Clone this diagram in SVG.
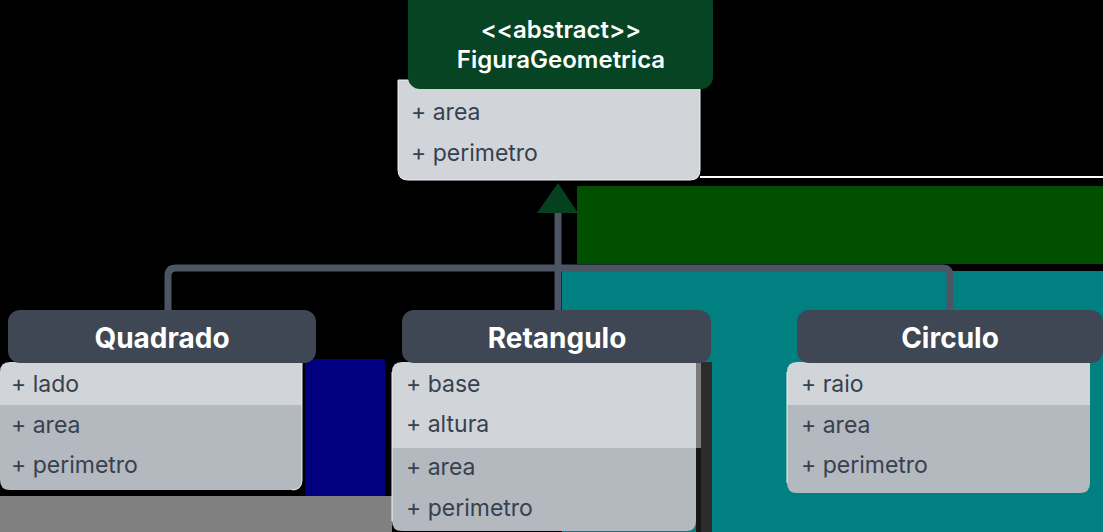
<svg xmlns="http://www.w3.org/2000/svg" width="1103" height="532" viewBox="0 0 1103 532">
  <style>
    .hdr { fill: #3e4753; }
    .attr { fill: #d1d5da; }
    .meth { fill: #b4b8bf; }
    .title { font-family: Inter, "Noto Sans", "Liberation Sans", sans-serif; font-size: 28px; font-weight: 700; fill: #ffffff; text-anchor: middle; }
    .stereo { font-family: Inter, "Noto Sans", "Liberation Sans", sans-serif; font-size: 24px; font-weight: 600; fill: #ffffff; text-anchor: middle; }
    .member { font-family: Inter, "Noto Sans", "Liberation Sans", sans-serif; font-size: 23px; font-weight: 400; fill: #364150; }
    .link { fill: none; stroke: #4b5563; stroke-width: 7; }
  </style>

  <!-- backdrop panels -->
  <rect x="0" y="0" width="1103" height="532" fill="#000000"/>
  <rect x="700" y="176" width="403" height="2" fill="#ffffff"/>
  <rect x="577" y="186" width="526" height="78" fill="#005000"/>
  <rect x="562" y="271" width="541" height="261" fill="#008080"/>
  <rect x="305" y="359" width="80" height="137" fill="#000080"/>
  <rect x="0" y="496" width="392" height="36" fill="#808080"/>

  <!-- inheritance connectors -->
  <g id="connectors">
    <path class="link" d="M 168 310 V 276 Q 168 268 176 268 H 942 Q 950 268 950 276 V 310"/>
    <path class="link" d="M 558 310 V 210"/>
    <polygon points="537,213 578,213 558,183" fill="#05401f"/>
  </g>

  <!-- abstract base class -->
  <g id="FiguraGeometrica">
    <path d="M 398 80 H 700 V 170 Q 700 180 690 180 H 408 Q 398 180 398 170 Z" class="attr" stroke="#eef0f2" stroke-width="1"/>
    <rect x="408" y="-10" width="305" height="99" rx="12" fill="#064424"/>
    <text class="stereo" x="561" y="38">&lt;&lt;abstract&gt;&gt;</text>
    <text class="stereo" x="561" y="68" font-weight="700">FiguraGeometrica</text>
    <text class="member" x="411" y="120">+ area</text>
    <text class="member" x="411" y="161">+ perimetro</text>
  </g>

  <!-- Quadrado -->
  <g id="Quadrado">
    <path d="M 0 372 Q 0 362 10 362 H 302 V 405 H 0 Z" class="attr"/>
    <path d="M 0 405 H 302 V 480 Q 302 490 292 490 H 10 Q 0 490 0 480 Z" class="meth"/>
    <path d="M 302 362 V 480 Q 302 490 292 490" fill="none" stroke="#e8eaed" stroke-width="1"/>
    <rect x="8" y="310" width="308" height="53" rx="12" class="hdr"/>
    <text class="title" x="162" y="348">Quadrado</text>
    <text class="member" x="11" y="392">+ lado</text>
    <text class="member" x="11" y="433">+ area</text>
    <text class="member" x="11" y="473">+ perimetro</text>
  </g>

  <!-- Retangulo -->
  <g id="Retangulo">
    <rect x="696" y="362" width="5" height="86" fill="#7a7a7a"/>
    <rect x="696" y="448" width="5" height="84" fill="#161616"/>
    <rect x="701" y="362" width="11" height="170" fill="#2c2c2c"/>
    <path d="M 392 372 Q 392 362 402 362 H 696 V 448 H 392 Z" class="attr"/>
    <path d="M 392 448 H 696 V 521 Q 696 531 686 531 H 402 Q 392 531 392 521 Z" class="meth"/>
    <path d="M 392 372 V 521" fill="none" stroke="#f2f3f5" stroke-width="1"/>
    <rect x="402" y="310" width="309" height="53" rx="12" class="hdr"/>
    <text class="title" x="557" y="348">Retangulo</text>
    <text class="member" x="406" y="392">+ base</text>
    <text class="member" x="406" y="432">+ altura</text>
    <text class="member" x="406" y="475">+ area</text>
    <text class="member" x="406" y="516">+ perimetro</text>
  </g>

  <!-- Circulo -->
  <g id="Circulo">
    <path d="M 787 372 Q 787 362 797 362 H 1090 V 405 H 787 Z" class="attr"/>
    <path d="M 787 405 H 1090 V 483 Q 1090 493 1080 493 H 797 Q 787 493 787 483 Z" class="meth"/>
    <path d="M 787 372 V 483" fill="none" stroke="#f2f3f5" stroke-width="1"/>
    <rect x="797" y="310" width="306" height="53" rx="12" class="hdr"/>
    <text class="title" x="950" y="348">Circulo</text>
    <text class="member" x="801" y="392">+ raio</text>
    <text class="member" x="801" y="433">+ area</text>
    <text class="member" x="801" y="473">+ perimetro</text>
  </g>
</svg>
